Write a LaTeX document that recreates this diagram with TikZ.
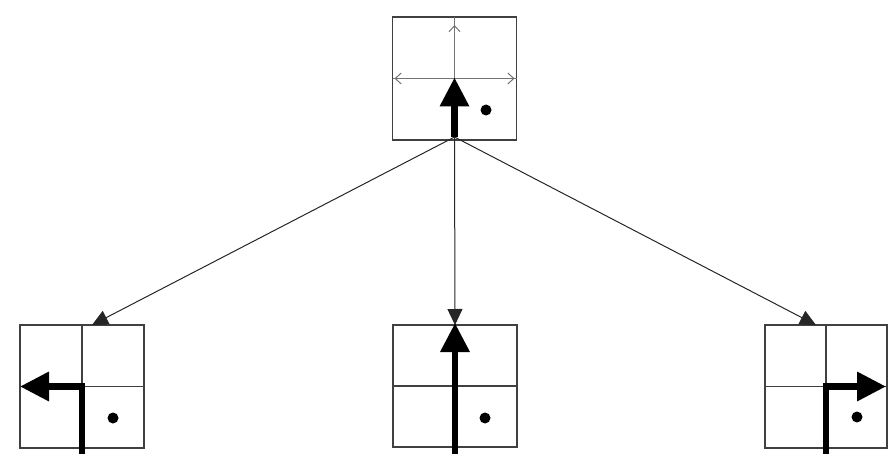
\documentclass[tikz,border=0pt]{standalone}
\usetikzlibrary{arrows.meta}
\begin{document}
\begin{tikzpicture}[x=1pt,y=-1pt,
  gridbox/.style={draw=black!75, line width=1.5pt, minimum width=124pt, minimum height=123pt, inner sep=0pt, outer sep=0pt},
  gridline/.style={draw=black!75, line width=1.5pt},
  bigarrow/.style={line width=6.5pt, line join=miter, -{Triangle[length=29pt,width=28pt]}},
  conn/.style={draw=black!85, line width=1pt, -{Triangle[length=16pt,width=15pt]}},
  thinline/.style={draw=black!55, line width=1pt},
  thinarr/.style={draw=black!55, line width=1pt, -{Straight Barb[length=6pt,width=11pt]}},
  dotmark/.style={circle, fill=black, inner sep=0pt, minimum size=11pt}]
\useasboundingbox (0,0) rectangle (888,454);
% boxes
\node[gridbox] (T) at (454.5,78.5) {};
\node[gridbox] (L) at (82,386.5) {};
\node[gridbox, minimum height=122pt] (M) at (455,386) {};
\node[gridbox, minimum width=122pt] (R) at (826,386.5) {};
% grid lines
\draw[gridline] (L.north) -- (L.south) (L.west) -- (L.east);
\draw[gridline] (M.north) -- (M.south) (M.west) -- (M.east);
\draw[gridline] (R.north) -- (R.south) (R.west) -- (R.east);
% thin arrows in top box
\draw[thinline] (T.center) -- (T.north);
\draw[thinarr, shorten >=8pt] (T.center) -- (T.north);
\draw[thinline] (T.west) -- (T.east);
\draw[thinarr, shorten >=2pt] (T.center) -- (T.west);
\draw[thinarr, shorten >=2pt] (T.center) -- (T.east);
% connectors
\coordinate (O) at ([yshift=3pt]T.south);
\draw[conn] (O) -- ([xshift=10pt]L.north);
\draw[conn] (O) -- (M.north);
\draw[conn] (O) -- ([xshift=-10pt]R.north);
% thick arrows
\draw[bigarrow, shorten >=-1pt] (O) -- (T.center);
\draw[bigarrow] (L.center |- 0,456) -- (L.center) -- (L.west);
\draw[bigarrow, shorten >=-2pt] (M.center |- 0,456) -- (M.north);
\draw[bigarrow] (R.center |- 0,456) -- (R.center) -- ([xshift=-1pt]R.east);
% dots
\node[dotmark] (d1) at (486,110) {};
\node[dotmark] (d2) at (113,418) {};
\node[dotmark] (d3) at (485,418) {};
\node[dotmark] (d4) at (857,417) {};
\end{tikzpicture}
\end{document}
